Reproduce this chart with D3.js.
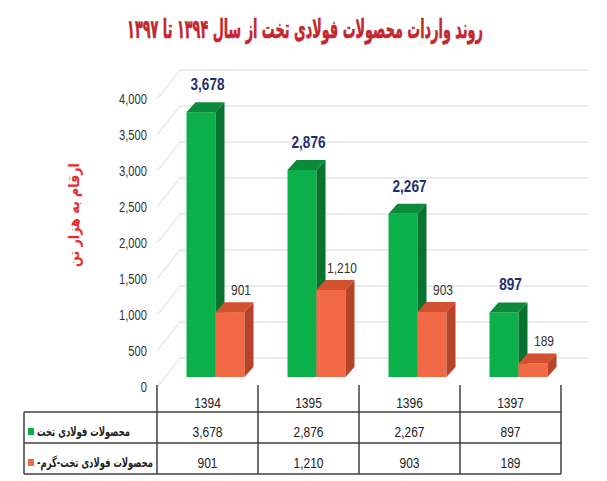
<!DOCTYPE html>
<html>
<head>
<meta charset="utf-8">
<script src="https://cdn.jsdelivr.net/npm/d3@7"></script>
<style>
  html, body { margin: 0; padding: 0; background: #fff; }
  svg { display: block; }
</style>
</head>
<body>
<div id="chart"></div>
<script>
// data
const years = ["1394", "1395", "1396", "1397"];
const flatValues = [3678, 2876, 2267, 897];
const hotValues = [901, 1210, 903, 189];
const seriesNames = ["محصولات فولادی تخت", "محصولات فولادی تخت-گرم-"];
const yTicks = [0, 500, 1000, 1500, 2000, 2500, 3000, 3500, 4000];
const titleText = "روند واردات محصولات فولادی تخت از سال ۱۳۹۴ تا ۱۳۹۷";
const yTitleText = "ارقام به هزار تن";

const W = 607, H = 481;
const NUM_FONT = "'Liberation Sans Narrow', 'Liberation Sans', Arial, sans-serif";
const FA_FONT = "'DejaVu Sans', sans-serif";
const NARROW = 0.8;  // squeeze numbers to look like a condensed face

const svg = d3.select("#chart").append("svg")
  .attr("width", W)
  .attr("height", H);

svg.append("rect").attr("width", W).attr("height", H).attr("fill", "#fff");

//scales - front plane
const x = d3.scaleBand().domain(years).range([157, 561]).padding(0);
const y = d3.scaleLinear().domain([0, 4000]).range([387, 99]);
const sub = d3.scaleBand().domain([0, 1]).range([0, 58]);

const wallDX = 23, wallDY = -29;   // back wall offset
const barDX = 8, barDY = -10;      // bar front face offset
const depDX = 9, depDY = -10;      // bar depth

const fmt = d3.format(",");

// helper: shrink/stretch text to a width
function fitWidth(sel, w, cx, cy, rot) {
  const len = sel.node().getComputedTextLength();
  const k = w / len;
  sel.attr("x", 0).attr("y", 0)
    .attr("transform", `translate(${cx},${cy})` + (rot ? ` rotate(${rot})` : "") + ` scale(${k},1)`);
}

// helper: number text squeezed around its anchor
function numText(g, px, py, str) {
  return g.append("text")
    .attr("transform", `translate(${px},${py}) scale(${NARROW},1)`)
    .attr("font-family", NUM_FONT)
    .text(str);
}

//title
const title = svg.append("text")
  .attr("text-anchor", "middle")
  .attr("direction", "rtl")
  .attr("font-family", FA_FONT)
  .attr("font-weight", "bold")
  .attr("font-size", 26)
  .attr("fill", "#c4262e")
  .attr("stroke", "#c4262e")
  .attr("stroke-width", 0.6)
  .text(titleText);
fitWidth(title, 356, 305, 38);

//back wall gridlines and diagonals
const grid = svg.append("g");
yTicks.forEach(t => {
  grid.append("line")
    .attr("x1", x.range()[0] + wallDX).attr("x2", 588)
    .attr("y1", y(t) + wallDY).attr("y2", y(t) + wallDY)
    .attr("stroke", "#d9d9d9").attr("stroke-width", 1);
  grid.append("line")
    .attr("x1", x.range()[0]).attr("x2", x.range()[0] + wallDX)
    .attr("y1", y(t)).attr("y2", y(t) + wallDY)
    .attr("stroke", "#d9d9d9").attr("stroke-width", 1);
});

//tick labels
const tickG = svg.append("g")
  .attr("text-anchor", "end")
  .attr("font-size", 14)
  .attr("fill", "#333");
yTicks.forEach(t => numText(tickG, 147, y(t) + 5, fmt(t)));

//y axis title
const yTitle = svg.append("text")
  .attr("text-anchor", "middle")
  .attr("direction", "rtl")
  .attr("font-family", FA_FONT)
  .attr("font-weight", "bold")
  .attr("font-size", 15)
  .attr("fill", "#ee2b2b")
  .text(yTitleText);
fitWidth(yTitle, 104, 79, 215, -90);

//bars
const colors = [
  {front: "#0cb04a", top: "#0b8a3a", side: "#08722f"},
  {front: "#f26a45", top: "#d25230", side: "#b6442a"}
];

function drawBar(g, x0, v, w, c) {
  const yt = y(v) + barDY, yb = y(0) + barDY;
  g.append("rect")
    .attr("x", x0).attr("y", yt)
    .attr("width", w).attr("height", yb - yt)
    .attr("fill", c.front);
  g.append("path")
    .attr("d", `M${x0},${yt}L${x0 + depDX},${yt + depDY}L${x0 + w + depDX},${yt + depDY}L${x0 + w},${yt}Z`)
    .attr("fill", c.top);
  g.append("path")
    .attr("d", `M${x0 + w},${yt}L${x0 + w + depDX},${yt + depDY}L${x0 + w + depDX},${yb + depDY}L${x0 + w},${yb}Z`)
    .attr("fill", c.side);
}

const bars = svg.append("g");
const labels = svg.append("g").attr("text-anchor", "middle");
years.forEach((yr, i) => {
  const gx = x(yr) + (x.bandwidth() - 58) / 2 + barDX;
  const vals = [flatValues[i], hotValues[i]];
  vals.forEach((v, s) => drawBar(bars, gx + sub(s), v, sub.bandwidth(), colors[s]));

  //value labels
  numText(labels, gx + sub(0) + sub.bandwidth() / 2 + depDX / 2 + 2, y(flatValues[i]) + barDY - 22, fmt(flatValues[i]))
    .attr("font-weight", "bold")
    .attr("font-size", 17)
    .attr("fill", "#1f2e6e");
  numText(labels, gx + sub(1) + sub.bandwidth() / 2 + 11, y(hotValues[i]) + barDY - 17, fmt(hotValues[i]))
    .attr("font-size", 15)
    .attr("fill", "#333");
});

//data table
const table = svg.append("g")
  .attr("stroke", "#404040")
  .attr("stroke-width", 1.5);
const rowLines = [412, 443, 474];
const tLeft = 24, tRight = x.range()[1];
rowLines.forEach(r => table.append("line")
  .attr("x1", tLeft).attr("x2", tRight).attr("y1", r).attr("y2", r));
table.append("line").attr("x1", tLeft).attr("x2", tLeft).attr("y1", 412).attr("y2", 474);
years.concat(["end"]).forEach((yr, i) => {
  const xx = i < years.length ? x(yr) : x.range()[1];
  table.append("line").attr("x1", xx).attr("x2", xx).attr("y1", 385).attr("y2", 474);
});

const cells = svg.append("g")
  .attr("font-size", 15)
  .attr("fill", "#222")
  .attr("text-anchor", "middle");
const rowY = [403, 432, 463];
years.forEach((yr, i) => {
  const cx = x(yr) + x.bandwidth() / 2;
  numText(cells, cx, rowY[0] + 5, yr);
  numText(cells, cx, rowY[1] + 5, fmt(flatValues[i]));
  numText(cells, cx, rowY[2] + 5, fmt(hotValues[i]));
});

//legend keys in table
const keyW = [93, 116];
seriesNames.forEach((name, s) => {
  svg.append("rect")
    .attr("x", 28).attr("y", rowY[s + 1] - 4)
    .attr("width", 6).attr("height", 7)
    .attr("fill", colors[s].front);
  const t = svg.append("text")
    .attr("text-anchor", "middle")
    .attr("direction", "rtl")
    .attr("font-family", FA_FONT)
    .attr("font-weight", "bold")
    .attr("font-size", 13)
    .attr("fill", "#222")
    .text(name);
  fitWidth(t, keyW[s], 37 + keyW[s] / 2, rowY[s + 1] + 4);
});
</script>
</body>
</html>
